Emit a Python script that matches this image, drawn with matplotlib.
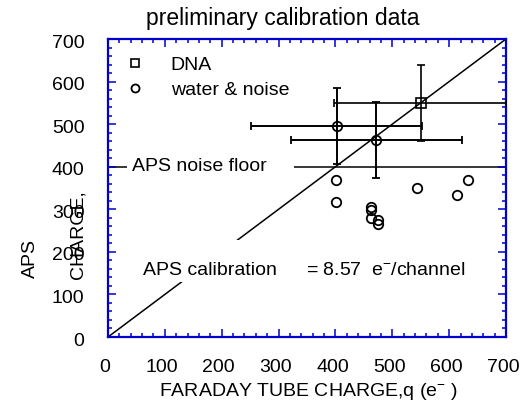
import numpy as np
import matplotlib
matplotlib.use("Agg")
import matplotlib.pyplot as plt
from matplotlib.transforms import ScaledTranslation
from matplotlib.ticker import MultipleLocator

plt.rcParams['font.family'] = ['Liberation Sans', 'DejaVu Sans']
plt.rcParams['mathtext.fontset'] = 'custom'
plt.rcParams['mathtext.rm'] = 'Liberation Sans'
plt.rcParams['mathtext.it'] = 'Liberation Sans'

# DNA measurement (Faraday tube charge vs APS charge, electrons)
dna_x = [550]
dna_y = [549]
dna_xerr = [152]
dna_yerr = [89]

# water & noise events with error estimates
wn_err_x = [402, 472]
wn_err_y = [496, 463]
wn_err_xerr = [150, 150]
wn_err_yerr = [90, 89]

# remaining water & noise events
wn_x = [401, 401, 462, 462, 462, 475, 475, 543, 614, 633]
wn_y = [369, 316, 305, 298, 280, 274, 265, 351, 334, 369]

# reference lines
unity_line = [0, 700]
noise_floor = 400

axis_range = (0, 700)
major_ticks = [0, 100, 200, 300, 400, 500, 600, 700]

BLUE = '#0000cc'
FS = 14
TITLE_FS = 16.5

fig = plt.figure(figsize=(5.26, 4.03), dpi=100)
ax = fig.add_axes([108 / 526, 1 - 337 / 403, 398 / 526, 298 / 403])

ax.plot(unity_line, unity_line, color='black', lw=1.1, zorder=1)
ax.axhline(noise_floor, color='black', lw=1.1, zorder=1)

ax.errorbar(dna_x, dna_y, xerr=dna_xerr, yerr=dna_yerr, fmt='none',
            ecolor='black', elinewidth=1.2, capsize=3, capthick=1.2, zorder=4)
ax.errorbar(wn_err_x, wn_err_y, xerr=wn_err_xerr, yerr=wn_err_yerr, fmt='none',
            ecolor='black', elinewidth=1.4, capsize=3, capthick=1.3, zorder=4)

sq, = ax.plot(dna_x, dna_y, 's', ms=6.8, mfc='none', mec='black', mew=1.2,
              zorder=5, label='DNA')
ax.plot(wn_err_x, wn_err_y, 'o', ms=6.8, mfc='none', mec='black', mew=1.3,
        zorder=5)
circ, = ax.plot(wn_x, wn_y, 'o', ms=6.8, mfc='none', mec='black', mew=1.3,
                zorder=5, label='water & noise')

ax.set_xlim(*axis_range)
ax.set_ylim(*axis_range)
ax.set_xticks(major_ticks)
ax.set_yticks(major_ticks)
ax.xaxis.set_minor_locator(MultipleLocator(20))
ax.yaxis.set_minor_locator(MultipleLocator(20))
ax.tick_params(which='both', direction='in', top=True, right=True, color=BLUE,
               labelsize=FS, labelcolor='black')
ax.tick_params(which='major', length=6, width=1.1)
ax.tick_params(which='minor', length=3, width=1.1)
ax.tick_params(axis='x', which='major', pad=16)
ax.tick_params(axis='y', which='major', pad=17)
for s in ax.spines.values():
    s.set_color(BLUE)
    s.set_linewidth(1.6)

for lab in ax.get_xticklabels():
    lab.set_transform(lab.get_transform() + ScaledTranslation(-3 / 100, 0, fig.dpi_scale_trans))
for lab in ax.get_yticklabels():
    lab.set_transform(lab.get_transform() + ScaledTranslation(0, -2 / 100, fig.dpi_scale_trans))

leg = ax.legend(handles=[sq, circ], loc='upper left', bbox_to_anchor=(0.043, 0.943),
                frameon=False, borderaxespad=0, borderpad=0, handlelength=1.0,
                handletextpad=1.35, labelspacing=0.38, fontsize=FS, markerscale=0.85)

# annotation boxes mask the reference lines behind them
ax.text(43, 400, 'APS noise floor    ', fontsize=FS, ha='left', va='center',
        zorder=3, bbox=dict(facecolor='white', edgecolor='none', pad=4))
ax.text(61, 136, '\nAPS calibration', fontsize=FS, ha='left', va='bottom',
        zorder=3, bbox=dict(facecolor='white', edgecolor='none', pad=2))
ax.text(349, 136, r'= 8.57  e$^{-}$/channel', fontsize=FS, ha='left', va='bottom',
        zorder=3)

fig.text(283 / 526, 1 - 18 / 403, 'preliminary calibration data', fontsize=TITLE_FS,
         ha='center', va='center')
fig.text(308 / 526, 1 - 392 / 403, r'FARADAY TUBE CHARGE,q (e$^{-}$ )', fontsize=FS,
         ha='center', va='center')
fig.text(30 / 526, 1 - 259 / 403, 'APS', fontsize=FS, rotation=90,
         ha='center', va='center')
fig.text(78 / 526, 1 - 235 / 403, 'CHARGE,', fontsize=FS, rotation=90,
         ha='center', va='center')

fig.savefig('out.png', dpi=100)
